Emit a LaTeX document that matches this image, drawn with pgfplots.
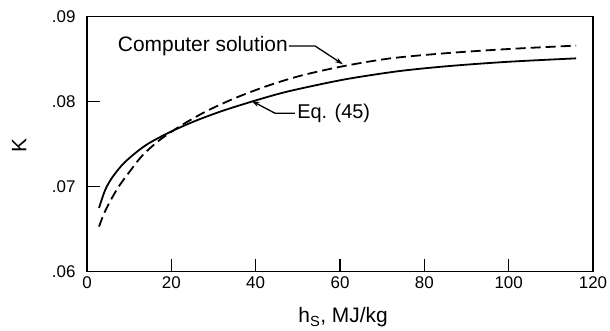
\documentclass[border=0pt]{standalone}
\usepackage{fontspec}
\setmainfont{Liberation Sans}
\usepackage{pgfplots}
\pgfplotsset{compat=1.18}
\usetikzlibrary{arrows.meta}
\begin{document}
\begin{tikzpicture}
\path[use as bounding box] (0,0) rectangle (610bp,331bp);
\begin{axis}[
  at={(87bp,59.3bp)}, anchor=south west,
  scale only axis, width=506bp, height=255bp,
  xmin=0, xmax=120, ymin=0.06, ymax=0.09,
  scaled y ticks=false, scaled x ticks=false,
  xtick={0,20,40,60,80,100,120},
  xticklabels={0,20,40,60,80,100,120},
  ytick={0.06,0.07,0.08,0.09},
  yticklabels={.06,.07,.08,.09},
  tick align=inside, xtick pos=bottom, ytick pos=left,
  major tick length=13bp,
  axis line style={line width=1.3bp},
  tick style={line width=1.3bp, black},
  ticklabel style={font=\fontsize{17}{20}\selectfont},
  xticklabel style={yshift=-1.5bp},
  yticklabel style={xshift=-8bp},
  xlabel={h\textsubscript{S}, MJ/kg},
  ylabel={K},
  label style={font=\fontsize{21}{24}\selectfont},
  xlabel style={at={(axis description cs:0.506,-0.201)}, anchor=base},
  ylabel style={at={(axis description cs:-0.134,0.493)}, anchor=center},
  clip=false,
]
% Eq. (45)
\addplot[black, line width=1.8bp, smooth] coordinates {
 (2.85,0.0675) (4.3,0.0696) (6,0.0711) (9,0.0729) (14,0.0749)
 (20,0.0765) (26,0.0778) (32,0.0789) (39,0.0800) (46,0.0810)
 (53,0.0818) (62,0.0827) (74,0.0836) (86,0.0842) (100,0.0847) (116,0.0851)
};
% Computer solution
\addplot[black, line width=1.8bp, smooth, dash pattern=on 10bp off 5bp] coordinates {
 (2.85,0.0653) (4.0,0.0668) (5.5,0.0683) (7.5,0.0700) (10,0.0717)
 (13,0.0736) (17,0.0754) (22,0.0771) (28,0.0788) (35,0.0804)
 (43,0.0819) (51,0.0831) (61,0.0842) (72,0.0851) (85,0.0857)
 (100,0.0862) (116,0.0866)
};
\node[anchor=east, inner sep=1bp, font=\fontsize{21}{24}\selectfont] at (axis cs:47.9,0.0865) {Computer solution};
\draw[line width=1.3bp, -{Stealth[length=8bp,width=5bp]}] (axis cs:47.9,0.08655) -- (axis cs:54.1,0.08655) -- (axis cs:60.7,0.0844);
\node[anchor=west, inner sep=1bp, font=\fontsize{20}{24}\selectfont] at (axis cs:49.6,0.07864) {Eq. (45)};
\draw[line width=1.3bp, -{Stealth[length=8bp,width=5bp]}] (axis cs:49.3,0.07864) -- (axis cs:44.6,0.07864) -- (axis cs:39,0.0801);
\end{axis}
\end{tikzpicture}
\end{document}
